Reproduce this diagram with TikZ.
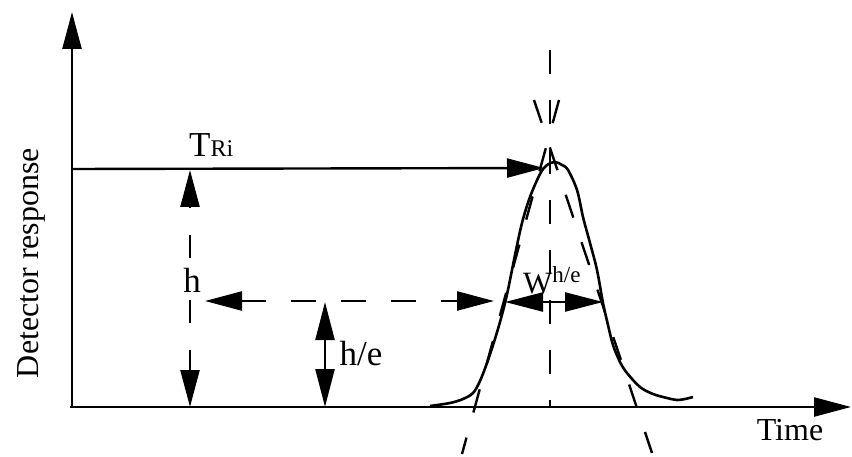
\documentclass[tikz,border=0pt]{standalone}
\usepackage{fontspec}
\setmainfont{Liberation Serif}
\usetikzlibrary{arrows.meta}
\tikzset{
  ln/.style={line width=2.4pt, line cap=butt},
  hd/.style={ln, -{Triangle[length=37pt,width=19pt]}},
  dbl/.style={ln, {Triangle[length=38pt,width=19pt]}-{Triangle[length=38pt,width=19pt]}},
  dsh/.style={ln, dash pattern=on 24pt off 26pt},
  lbl/.style={inner sep=0pt, anchor=base, font=\fontsize{32}{32}\selectfont},
}
\begin{document}
\begin{tikzpicture}[x=1pt,y=-1pt]
\useasboundingbox (0,0) rectangle (852,457);
% coordinates
\coordinate (O) at (72,407);
\coordinate (Ytip) at (72,12);
\coordinate (Xtip) at (851,407);
\coordinate (Tstart) at (72,169);
\coordinate (Ttip) at (544,168);
% axes
\draw[hd] (O) -- (Ytip);
\draw[hd] ([xshift=-2pt]O) -- (Xtip);
\draw[hd] (Tstart) -- (Ttip);
% peak
\draw[line width=2.6pt, line join=round] plot[smooth, tension=0.55] coordinates {
(430,406) (450,403) (463,399) (473,393) (480,381) (487,363) (494,342) (500,322)
(505,303) (509,285) (515,255) (522,223) (530,197) (540,174) (547,165) (555,162)
(562,165) (568,170) (577,190) (583,217) (590,243) (597,270) (603,303) (608,325)
(613,345) (620,362) (627,373) (640,387) (653,394) (667,398) (677,400) (685,399) (693,397)};
% centre line and tangents
\coordinate (Ctop) at (550,50);
\coordinate (Cbot) at (550,407);
\draw[dsh] (Ctop) -- (Cbot);
\coordinate (LTtop) at (559,100);
\coordinate (LTbot) at (462,454);
\coordinate (RTtop) at (534,100);
\coordinate (RTbot) at (652,453);
\draw[dsh] (LTtop) -- (LTbot);
\draw[dsh] (RTtop) -- (RTbot);
% h dimension
\coordinate (hTop) at (190,170);
\coordinate (hTopB) at (190,208);
\coordinate (hBotB) at (190,365);
\coordinate (hBot) at (190,407);
\draw[hd] (hTopB) -- (hTop);
\draw[hd] (hBotB) -- (hBot);
\draw[ln] (190,235) -- (190,258);
\draw[ln] (190,300) -- (190,323);
\draw[ln] (190,350) -- (hBotB);
\node[lbl, font=\fontsize{35}{35}\selectfont] (h) at (192,293) {h};
% horizontal dashed at h/e
\coordinate (HLtip) at (205,301);
\coordinate (HLb) at (241,301);
\coordinate (HRb) at (457,301);
\coordinate (HRtip) at (494,301);
\draw[hd] (HLb) -- (HLtip);
\draw[ln, dash pattern=on 25pt off 25pt] (HLb) -- (HRb);
\draw[hd] ([xshift=-2pt]HRb) -- (HRtip);
% h/e arrow
\coordinate (heTop) at (325,302);
\coordinate (heBot) at (325,407);
\draw[dbl] (heTop) -- (heBot);
\node[lbl, font=\fontsize{35}{35}\selectfont] (he) at (361,365) {h/e};
% width arrow
\coordinate (WL) at (505,302);
\coordinate (WR) at (603,302);
\draw[dbl] (WL) -- (WR);
\node[lbl, anchor=base west] (W) at (523,294) {\fontsize{31}{31}\selectfont W\raisebox{11pt}{\fontsize{23}{23}\selectfont h/e}};
% labels
\node[lbl, anchor=base west] (TRi) at (189,157) {\fontsize{35}{35}\selectfont T\fontsize{24}{24}\selectfont Ri};
\node[lbl, rotate=90] (ylab) at (38,263) {Detector response};
\node[lbl] (xlab) at (790,440) {Time};
\end{tikzpicture}
\end{document}
